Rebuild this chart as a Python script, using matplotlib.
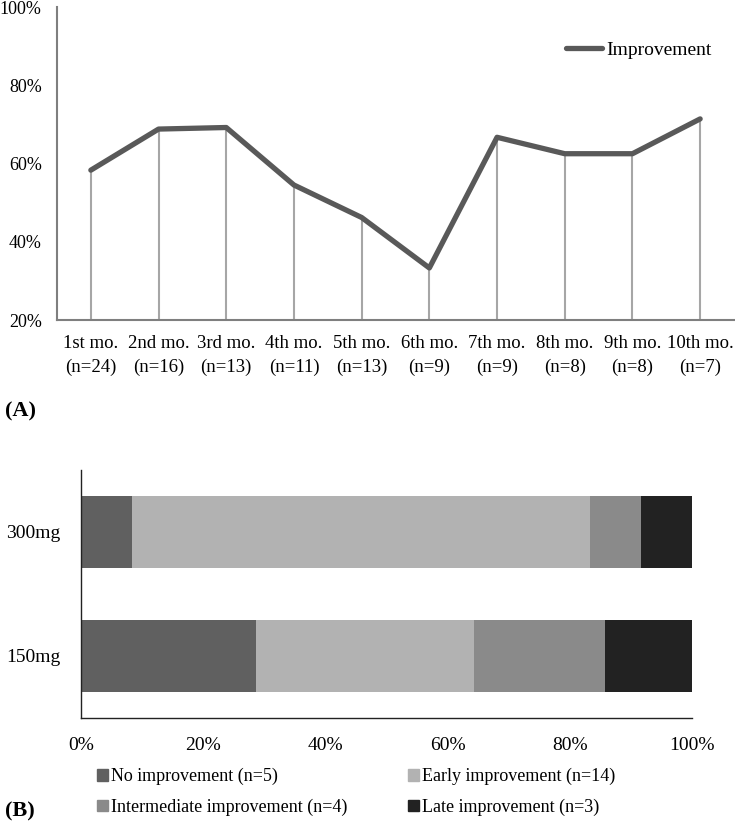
import numpy as np
import matplotlib
matplotlib.use('Agg')
import matplotlib.pyplot as plt
from matplotlib.ticker import PercentFormatter
from matplotlib.patches import Patch

plt.rcParams['font.family'] = ['Liberation Serif', 'DejaVu Serif']
plt.rcParams['font.size'] = 14

## data
months = ['1st mo.\n(n=24)', '2nd mo.\n(n=16)', '3rd mo.\n(n=13)', '4th mo.\n(n=11)', '5th mo.\n(n=13)',
          '6th mo.\n(n=9)', '7th mo.\n(n=9)', '8th mo.\n(n=8)', '9th mo.\n(n=8)', '10th mo.\n(n=7)']
improvement = [58.3, 68.8, 69.2, 54.5, 46.2, 33.3, 66.7, 62.5, 62.5, 71.4]

doses = ['150mg', '300mg']
no_impr = [28.6, 8.3]
early_impr = [35.7, 75.0]
inter_impr = [21.4, 8.3]
late_impr = [14.3, 8.4]
seg_names = ['No improvement (n=5)', 'Early improvement (n=14)',
             'Intermediate improvement (n=4)', 'Late improvement (n=3)']
seg_colors = ['#606060', '#b2b2b2', '#8a8a8a', '#222222']

fig = plt.figure(figsize=(7.35, 8.26), dpi=100)

## (A) line chart
ax1 = fig.add_axes([57/735, 1-320/826, 1-57/735-1/735, 313/826])
x = np.arange(len(months))
ax1.vlines(x, 20, improvement, color='#a6a6a6', lw=1.5, zorder=1)
ax1.plot(x, improvement, color='#595959', lw=3.8, solid_capstyle='round', label='Improvement', zorder=2)
ax1.set_xlim(-0.5, len(months)-0.5)
ax1.set_ylim(20, 100)
ax1.set_yticks([20, 40, 60, 80, 100])
ax1.yaxis.set_major_formatter(PercentFormatter(decimals=0))
ax1.set_xticks(x)
ax1.set_xticklabels(months, fontsize=13.5, linespacing=1.45)
ax1.tick_params(length=0)
ax1.tick_params(axis='y', pad=11, labelsize=13)
ax1.tick_params(axis='x', pad=11)
for s in ['top', 'right']:
    ax1.spines[s].set_visible(False)
for s in ['left', 'bottom']:
    ax1.spines[s].set_color('#7f7f7f')
    ax1.spines[s].set_linewidth(1.5)
ax1.legend(loc='center left', bbox_to_anchor=((567-57)/678, 1-(50-7)/313), frameon=False, handlelength=1.85,
           handletextpad=0.2, borderpad=0, borderaxespad=0, fontsize=14)

## (B) stacked bars
ax2 = fig.add_axes([81/735, 1-718/826, (692-81)/735, 248/826])
y = np.arange(len(doses))
left = np.zeros(len(doses))
for vals, c, n in zip([no_impr, early_impr, inter_impr, late_impr], seg_colors, seg_names):
    ax2.barh(y, vals, left=left, height=0.575, color=c, label=n)
    left += np.array(vals)
ax2.set_xlim(0, 100)
ax2.set_ylim(-0.5, 1.5)
ax2.set_yticks(y)
ax2.set_yticklabels(doses)
ax2.set_xticks([0, 20, 40, 60, 80, 100])
ax2.xaxis.set_major_formatter(PercentFormatter(decimals=0))
ax2.tick_params(length=0, pad=15)
ax2.tick_params(axis='x', pad=14)
for s in ['top', 'right']:
    ax2.spines[s].set_visible(False)
for s in ['left', 'bottom']:
    ax2.spines[s].set_color('#222222')
    ax2.spines[s].set_linewidth(1.0)

# legend fills column-wise, so order gives rows: No/Early, Intermediate/Late
order = [0, 2, 1, 3]
handles = [Patch(color=seg_colors[i]) for i in order]
labels = [seg_names[i] for i in order]
fig.legend(handles, labels, loc='upper left', bbox_to_anchor=(97/735, 1-768/826), ncol=2,
           frameon=False, handlelength=0.6, handleheight=0.6, handletextpad=0.15,
           columnspacing=3.4, labelspacing=0.75, borderpad=0, borderaxespad=0, fontsize=13)

fig.text(5/735, 1-411/826, '(A)', fontsize=16, fontweight='bold', va='center')
fig.text(5/735, 1-811/826, '(B)', fontsize=16, fontweight='bold', va='center')

fig.savefig('out.png', dpi=100)
